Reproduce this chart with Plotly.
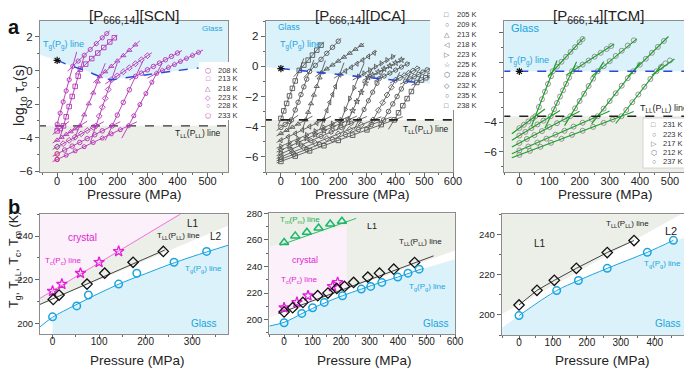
import plotly.graph_objects as go

# The page body has an 8 px margin, so the figure is 684x360 and page positions are shifted by 8 px.
OFF = 8
W, H = 684, 360
FONT = "Liberation Sans, Arial, sans-serif"

# ---------------- Panel a1 : [P666,14][SCN] ----------------
scn_temps = ["208 K", "213 K", "218 K", "223 K", "228 K", "233 K"]
scn_symbols = ["hexagon-open", "square-open", "triangle-up-open", "diamond-open", "circle-open", "pentagon-open"]
scn_glyphs = ["⬡", "□", "△", "◇", "○", "⬠"]
scn_p = [
    [0, 10, 20, 30, 40, 52, 70, 90, 110, 130, 150, 165],
    [0, 10, 21, 30, 40, 50, 60, 70, 77, 95, 115, 135, 155, 175, 190],
    [0, 15, 30, 45, 60, 75, 90, 105, 120, 135, 142, 160, 180, 200, 220, 240, 260],
    [0, 20, 40, 60, 80, 100, 120, 129, 140, 150, 160, 170, 181, 200, 220, 240, 260, 280, 300],
    [0, 25, 50, 75, 100, 125, 150, 183, 200, 220, 240, 261, 280, 300, 320, 340, 360, 380, 400],
    [0, 30, 60, 90, 120, 150, 180, 210, 237, 255, 275, 295, 315, 331, 350, 370, 390, 410, 430, 450, 470],
]
scn_logtau = [
    [-3.2, -2.54, -1.87, -1.21, -0.55, 0.25, 0.56, 0.91, 1.25, 1.6, 1.95, 2.2],
    [-3.6, -3.46, -3.3, -2.76, -2.15, -1.55, -0.95, -0.34, 0.08, 0.38, 0.71, 1.04, 1.37, 1.7, 1.95],
    [-4.15, -3.98, -3.81, -3.64, -3.47, -3.3, -2.64, -1.98, -1.33, -0.67, -0.36, -0.07, 0.25, 0.57, 0.89, 1.21, 1.53],
    [-4.55, -4.36, -4.16, -3.97, -3.77, -3.58, -3.39, -3.3, -2.72, -2.19, -1.66, -1.13, -0.55, -0.32, -0.08, 0.16, 0.4, 0.64, 0.88],
    [-4.97, -4.74, -4.51, -4.29, -4.06, -3.83, -3.6, -3.3, -2.66, -1.9, -1.15, -0.35, -0.16, 0.04, 0.24, 0.44, 0.64, 0.84, 1.04],
    [-5.3, -5.05, -4.79, -4.54, -4.29, -4.03, -3.78, -3.53, -3.3, -2.7, -2.03, -1.37, -0.7, -0.17, 0.0, 0.18, 0.36, 0.54, 0.72, 0.9, 1.08],
]
# fitted straight lines: [P1, log1, P2, log2]
scn_fits = [
    [[-5, -3.53, 65, 1.11], [35, -0.04, 175, 2.37]],
    [[-15, -3.81, 40, -3.03], [10, -3.96, 90, 0.87], [60, -0.2, 200, 2.11]],
    [[-15, -4.32, 100, -3.02], [55, -4.18, 160, 0.43], [120, -0.72, 275, 1.77]],
    [[-15, -4.7, 155, -3.05], [110, -4.31, 200, 0.45], [160, -0.8, 315, 1.06]],
    [[-15, -5.11, 210, -3.05], [160, -4.17, 285, 0.56], [240, -0.56, 415, 1.19]],
    [[-15, -5.43, 265, -3.06], [215, -4.03, 350, 0.46], [300, -0.45, 485, 1.22]],
]
scn_amb_p = [0, 0, 0]
scn_amb_logtau = [-4.55, -4.97, -5.3]
scn_amb_colors = ["#3cb44b", "#f08a24", "#e8304a"]
scn_tg_p = [0, 50, 100, 140, 180, 220, 260, 300, 340, 400, 470]
scn_tg_logtau = [0.6, 0.25, -0.05, -0.35, -0.55, -0.45, -0.35, -0.25, -0.15, 0.0, 0.15]
scn_glass_p = [-60, 0, 50, 100, 140, 180, 220, 260, 300, 340, 400, 470, 570]
scn_glass_logtau = [0.95, 0.6, 0.25, -0.05, -0.35, -0.55, -0.45, -0.35, -0.25, -0.15, 0.0, 0.15, 0.35]
scn_tll_logtau = -3.3

# ---------------- Panel a2 : [P666,14][DCA] ----------------
dca_temps = ["205 K", "209 K", "213 K", "218 K", "223 K", "225 K", "228 K", "232 K", "235 K", "238 K"]
dca_symbols = ["square-open", "circle-open", "triangle-up-open", "triangle-left-open", "triangle-right-open",
               "star-open", "hexagon-open", "diamond-open", "circle-open", "square-open"]
dca_glyphs = ["□", "○", "△", "◁", "▷", "☆", "⬡", "◇", "○", "□"]
dca_p = [
    [0, 10, 20, 30, 40, 50, 64, 80, 95, 110, 125, 140],
    [0, 15, 30, 37, 50, 60, 70, 80, 90, 100, 120, 140, 160, 180, 200],
    [0, 20, 40, 60, 86, 95, 105, 115, 125, 135, 141, 160, 180, 200, 220, 240, 260, 280],
    [0, 25, 50, 75, 100, 125, 148, 160, 170, 180, 190, 205, 225, 245, 265, 285, 305, 325],
    [0, 30, 60, 90, 120, 150, 180, 210, 225, 240, 255, 271, 290, 310, 330, 350, 370, 390],
    [0, 30, 60, 90, 120, 150, 180, 210, 235, 250, 265, 280, 295, 304, 320, 340, 360, 380, 400, 420],
    [0, 35, 70, 105, 140, 175, 210, 245, 272, 290, 305, 320, 335, 343, 360, 380, 400, 420, 440],
    [0, 40, 80, 120, 160, 200, 240, 280, 321, 340, 355, 370, 385, 399, 415, 430, 445, 460, 475],
    [0, 45, 90, 135, 180, 225, 270, 315, 358, 375, 390, 405, 420, 435, 450, 465, 480, 495, 510],
    [0, 50, 100, 150, 200, 250, 300, 350, 395, 410, 425, 440, 455, 474, 490, 505, 520],
]
dca_logtau = [
    [-3.45, -2.95, -2.46, -1.96, -1.46, -0.97, -0.27, 0.08, 0.41, 0.74, 1.07, 1.4],
    [-4.05, -3.85, -3.65, -3.55, -2.89, -2.38, -1.87, -1.36, -0.85, -0.34, 0.06, 0.46, 0.86, 1.26, 1.66],
    [-4.45, -4.24, -4.03, -3.82, -3.55, -3.04, -2.47, -1.9, -1.33, -0.76, -0.42, -0.17, 0.09, 0.35, 0.61, 0.87, 1.13, 1.39],
    [-4.9, -4.67, -4.45, -4.22, -3.99, -3.76, -3.55, -2.92, -2.39, -1.87, -1.34, -0.55, -0.31, -0.07, 0.17, 0.41, 0.65, 0.89],
    [-5.3, -5.05, -4.8, -4.55, -4.3, -4.05, -3.8, -3.55, -2.85, -2.14, -1.43, -0.68, -0.47, -0.25, -0.03, 0.19, 0.41, 0.63],
    [-5.55, -5.29, -5.04, -4.78, -4.53, -4.27, -4.02, -3.76, -3.55, -2.94, -2.33, -1.72, -1.11, -0.74, -0.58, -0.38, -0.18, 0.02, 0.22, 0.42],
    [-5.8, -5.51, -5.22, -4.93, -4.64, -4.35, -4.06, -3.77, -3.55, -2.86, -2.28, -1.71, -1.13, -0.82, -0.65, -0.45, -0.25, -0.05, 0.15],
    [-6.0, -5.7, -5.39, -5.09, -4.78, -4.48, -4.18, -3.87, -3.55, -2.91, -2.4, -1.9, -1.39, -0.92, -0.76, -0.61, -0.46, -0.31, -0.16],
    [-6.15, -5.82, -5.5, -5.17, -4.84, -4.52, -4.19, -3.86, -3.55, -2.99, -2.49, -2.0, -1.5, -0.99, -0.84, -0.69, -0.54, -0.39, -0.24],
    [-6.3, -5.95, -5.6, -5.26, -4.91, -4.56, -4.21, -3.86, -3.55, -3.08, -2.61, -2.14, -1.67, -1.07, -0.91, -0.76, -0.61],
]
dca_fits = [
    [[-10, -3.95, 80, 0.53], [45, -0.69, 150, 1.62]],
    [[-15, -4.25, 60, -3.24], [25, -4.16, 115, 0.43], [80, -0.74, 210, 1.86]],
    [[-15, -4.61, 110, -3.3], [75, -4.18, 155, 0.38], [120, -0.69, 290, 1.52]],
    [[-15, -5.04, 175, -3.31], [135, -4.23, 220, 0.24], [185, -0.79, 335, 1.01]],
    [[-15, -5.42, 240, -3.3], [195, -4.26, 290, 0.21], [250, -0.91, 400, 0.74]],
    [[-15, -5.68, 265, -3.3], [215, -4.36, 320, -0.09], [285, -0.93, 430, 0.52]],
    [[-15, -5.92, 300, -3.32], [255, -4.2, 360, -0.16], [325, -1.0, 450, 0.25]],
    [[-15, -6.11, 350, -3.34], [300, -4.26, 415, -0.38], [380, -1.11, 485, -0.06]],
    [[-15, -6.26, 385, -3.36], [340, -4.15, 450, -0.5], [415, -1.19, 520, -0.14]],
    [[-15, -6.4, 425, -3.34], [375, -4.18, 490, -0.57], [455, -1.26, 530, -0.51]],
]
dca_tg_p = [0, 490]
dca_tg_logtau = [-0.15, -1.1]
dca_glass_p = [-60, 0, 490, 610]
dca_glass_logtau = [-0.03, -0.15, -1.1, -1.33]
dca_tll_logtau = -3.55

# ---------------- Panel a3 : [P666,14][TCM] ----------------
tcm_temps = ["231 K", "223 K", "217 K", "212 K", "237 K"]
tcm_glyphs = ["□", "○", "▷", "⬡", "○"]
tcm_p = [
    [0, 15, 30, 45, 53, 65, 75, 85, 95, 105, 111, 125, 140, 155, 170, 185, 200, 210],
    [0, 20, 40, 60, 80, 104, 115, 125, 135, 145, 155, 165, 175, 190, 210, 230, 250, 270, 290, 305],
    [0, 25, 50, 75, 100, 125, 150, 169, 185, 200, 215, 230, 245, 260, 280, 300, 320, 340, 360, 380],
    [0, 30, 60, 90, 120, 150, 180, 210, 240, 260, 280, 300, 320, 340, 360, 378, 400, 420, 440, 460, 480],
    [0, 35, 70, 105, 140, 175, 210, 245, 280, 310, 339, 355, 375, 395, 415, 435, 455, 470, 485, 500],
]
tcm_logtau = [
    [-4.4, -4.18, -3.95, -3.73, -3.6, -2.98, -2.46, -1.95, -1.43, -0.91, -0.58, -0.27, 0.06, 0.39, 0.72, 1.04, 1.37, 1.59],
    [-4.9, -4.65, -4.4, -4.15, -3.9, -3.6, -3.13, -2.71, -2.28, -1.86, -1.43, -1.01, -0.58, -0.39, -0.13, 0.14, 0.4, 0.66, 0.92, 1.12],
    [-5.4, -5.13, -4.87, -4.6, -4.33, -4.07, -3.8, -3.6, -3.07, -2.58, -2.09, -1.57, -1.08, -0.58, -0.24, 0.1, 0.45, 0.8, 1.15, 1.5],
    [-5.9, -5.64, -5.37, -5.11, -4.84, -4.58, -4.3, -4.04, -3.78, -3.6, -3.09, -2.58, -2.06, -1.55, -1.04, -0.58, -0.14, 0.26, 0.66, 1.06, 1.46],
    [-6.2, -5.93, -5.66, -5.39, -5.12, -4.85, -4.58, -4.32, -4.05, -3.82, -3.6, -3.18, -2.66, -2.14, -1.62, -1.1, -0.58, -0.3, -0.05, 0.15],
]
tcm_fits = [
    [[-25, -4.78, 85, -3.12], [40, -4.27, 125, 0.15], [95, -0.93, 215, 1.7]],
    [[-25, -5.21, 135, -3.21], [85, -4.41, 190, 0.06], [155, -0.84, 315, 1.25]],
    [[-25, -5.67, 200, -3.27], [150, -4.23, 280, 0.08], [240, -0.92, 390, 1.6]],
    [[-25, -6.12, 300, -3.25], [240, -4.11, 400, -0.02], [360, -0.94, 495, 1.76]],
    [[-25, -6.39, 380, -3.28], [320, -4.09, 475, -0.06], [440, -0.85, 515, 0.25]],
]
tcm_tg_logtau = -0.58
tcm_tll_logtau = -3.6

# ---------------- Panel b1 : SCN phase diagram ----------------
b1_tg_p = [0, 52, 77, 142, 181, 261, 331]
b1_tg_t = [203, 208, 213, 218, 223, 228, 233]
b1_tll_p = [1.5, 14, 74, 112, 173, 238]
b1_tll_t = [211, 213, 218, 223, 228, 233]
b1_tc_p = [0, 20, 60, 100, 142]
b1_tc_t = [214.8, 218, 223, 228, 233]
b1_tgline_p = [-27, 0, 50, 100, 150, 200, 250, 300, 377]
b1_tgline_t = [198.4, 202.8, 208.5, 213.8, 218.7, 222.8, 226.9, 230.6, 235.8]
b1_tllline_p = [-27, 241]
b1_tllline_t = [208.7, 233.6]
b1_tcline_p = [-30, 280]
b1_tcline_t = [211.1, 250.8]
b1_tllext_t = [208.3, 245.9]   # at P = -30 and 390

# ---------------- Panel b2 : DCA phase diagram ----------------
b2_tg_p = [0, 62, 100, 141, 205, 271, 304, 343, 399, 435, 474]
b2_tg_t = [197.7, 204.7, 209, 213, 218, 223, 225, 228, 232, 235, 238]
b2_tll_p = [0, 30, 66, 118, 154, 185, 212, 244, 294, 335, 385, 458]
b2_tll_t = [205.8, 209, 213, 218, 220, 223.5, 225, 228, 232, 235, 238, 243]
b2_tc_p = [0, 45, 84, 170, 188]
b2_tc_t = [209, 213, 218, 225, 228]
b2_tm_p = [0, 39, 80, 121, 162, 203]
b2_tm_t = [258, 263, 265.7, 269, 272, 274]
b2_tmline_p = [-14, 253]
b2_tmline_t = [256, 276.2]
b2_tllline_p = [-20, 525]
b2_tllline_t = [204.6, 248]
b2_tgline_p = [-52, 0, 62, 100, 141, 205, 271, 343, 399, 474, 490]
b2_tgline_t = [195.2, 198, 204.5, 208.5, 212.5, 218, 223, 228.3, 232, 237.5, 238.6]
b2_blue_p = [-52, 0, 62, 100, 141, 205, 271, 343, 399, 474, 600]
b2_blue_t = [195.2, 198, 204.5, 208.5, 212.5, 218, 223, 228.3, 232, 237.5, 245.4]
b2_grey_p = [-52, 600]
b2_grey_t = [201.8, 252]
b2_pink_p = [-52, -52, 220, 220]
b2_pink_t = [201.8, 254.6, 271, 224.5]

# ---------------- Panel b3 : TCM phase diagram ----------------
b3_tg_p = [0, 111, 175, 260, 378, 455]
b3_tg_t = [199.7, 212.2, 217.2, 223.3, 231.3, 237.3]
b3_tll_p = [0, 53, 104, 169, 260, 339]
b3_tll_t = [205, 212.3, 217.3, 223.3, 231.2, 237.2]
b3_blue_p = [-51, 0, 111, 175, 260, 378, 455, 500]
b3_blue_t = [193.5, 199.7, 212, 217.3, 223.5, 231.3, 236.8, 239.2]
b3_grey_p = [-51, 500]
b3_grey_t = [200.4, 252.5]

# ---------------- colours ----------------
C_BLUE_FILL = "#dcf2fb"
C_GREY_FILL = "#eceee8"
C_PINK_FILL = "#fcf0fa"
C_CYAN = "#1aa4e0"
C_MAG = "#e21ed8"
C_PURPLE = "#b432b4"
C_GREEN = "#1f9e2a"
C_TGDASH = "#2a48d6"

fig = go.Figure()


def px(x):
    return (x - OFF) / W


def py(y):
    return 1 - (y - OFF) / H


def fill(xs, ys, color, ax):
    fig.add_trace(go.Scatter(x=xs, y=ys, fill="toself", fillcolor=color, mode="lines",
                             line=dict(width=0), hoverinfo="skip", showlegend=False,
                             xaxis="x" + ax, yaxis="y" + ax))


def line(xs, ys, color, ax, width=1, dash=None, shape="linear"):
    fig.add_trace(go.Scatter(x=xs, y=ys, mode="lines", line=dict(color=color, width=width, dash=dash, shape=shape),
                             hoverinfo="skip", showlegend=False, xaxis="x" + ax, yaxis="y" + ax))


def marks(xs, ys, symbol, color, ax, size=5, lw=1):
    fig.add_trace(go.Scatter(x=xs, y=ys, mode="markers",
                             marker=dict(symbol=symbol, size=size, color=color, line=dict(color=color, width=lw)),
                             hoverinfo="skip", showlegend=False, xaxis="x" + ax, yaxis="y" + ax, cliponaxis=True))


def fit_lines(segs, color, ax, width=1):
    xs, ys = [], []
    for s in segs:
        xs += [s[0], s[2], None]
        ys += [s[1], s[3], None]
    line(xs, ys, color, ax, width)


# ---------- a1 ----------
a1x = [-57, 568]
a1y = [-6.05, 2.95]
fill(scn_glass_p + [scn_glass_p[-1], scn_glass_p[0]], scn_glass_logtau + [4, 4], C_BLUE_FILL, "")
fill([a1x[0] - 10, a1x[1] + 10, a1x[1] + 10, a1x[0] - 10], [scn_tll_logtau, scn_tll_logtau, -8, -8], C_GREY_FILL, "")
line([a1x[0] - 10, a1x[1] + 10], [scn_tll_logtau, scn_tll_logtau], "#333333", "", 1.4, "dash")
for i in range(len(scn_temps)):
    fit_lines(scn_fits[i], C_PURPLE, "", 0.9)
for i in range(3):
    marks([scn_amb_p[i]], [scn_amb_logtau[i]], "circle-open", scn_amb_colors[i], "", 4.5, 0.9)
for i in range(len(scn_temps)):
    marks(scn_p[i], scn_logtau[i], scn_symbols[i], C_PURPLE, "", 4.5, 0.9)
line(scn_tg_p, scn_tg_logtau, C_TGDASH, "", 1.4, "dash", "spline")
marks([0], [scn_tg_logtau[0]], "asterisk-open", "#111111", "", 6, 1.2)

# ---------- a2 ----------
a2x = [-53, 600]
a2y = [-7.0, 3.0]
fill(dca_glass_p + [dca_glass_p[-1], dca_glass_p[0]], dca_glass_logtau + [4, 4], C_BLUE_FILL, "2")
fill([a2x[0] - 10, a2x[1] + 10, a2x[1] + 10, a2x[0] - 10], [dca_tll_logtau, dca_tll_logtau, -8, -8], C_GREY_FILL, "2")
for i in range(len(dca_temps)):
    fit_lines(dca_fits[i], "#5a5a5a", "2", 0.9)
for i in range(len(dca_temps)):
    marks(dca_p[i], dca_logtau[i], dca_symbols[i], "#555555", "2", 4.5, 0.9)
line([a2x[0] - 10, a2x[1] + 10], [dca_tll_logtau, dca_tll_logtau], "#222222", "2", 1.6, "dash")
line(dca_tg_p, dca_tg_logtau, C_TGDASH, "2", 1.6, "dash")
marks([0], [dca_tg_logtau[0]], "asterisk-open", "#111111", "2", 6, 1.2)

# ---------- a3 ----------
a3x = [-50, 560]
a3y = [-7.35, 2.8]
fill([a3x[0] - 10, a3x[1] + 10, a3x[1] + 10, a3x[0] - 10], [tcm_tg_logtau, tcm_tg_logtau, 4, 4], C_BLUE_FILL, "3")
fill([a3x[0] - 10, a3x[1] + 10, a3x[1] + 10, a3x[0] - 10], [tcm_tll_logtau, tcm_tll_logtau, -8, -8], C_GREY_FILL, "3")
for i in range(len(tcm_p)):
    marks(tcm_p[i], tcm_logtau[i], "circle-open", "#8a8a8a", "3", 5, 0.9)
for i in range(len(tcm_p)):
    fit_lines(tcm_fits[i], C_GREEN, "3", 1.2)
line([a3x[0] - 10, a3x[1] + 10], [tcm_tll_logtau, tcm_tll_logtau], "#222222", "3", 1.6, "dash")
line([a3x[0] - 10, a3x[1] + 10], [tcm_tg_logtau, tcm_tg_logtau], C_TGDASH, "3", 1.6, "dash")
marks([0], [tcm_tg_logtau], "asterisk-open", "#111111", "3", 6, 1.2)

# ---------- b1 ----------
b1x = [-27, 377]
b1y = [195, 250]
fill(b1_tcline_p + [-30], b1_tcline_t + [260], C_PINK_FILL, "4")
fill(b1_tcline_p + [390, 390, -30], b1_tcline_t + [260, b1_tllext_t[1], b1_tllext_t[0]], C_GREY_FILL, "4")
fill(b1_tgline_p[1:] + [390, 390, 0], b1_tgline_t[1:] + [236.2, 190, 190], C_BLUE_FILL, "4")
line(b1_tcline_p, b1_tcline_t, "#ee70e0", "4", 1)
line(b1_tllline_p, b1_tllline_t, "#444444", "4", 1)
line(b1_tgline_p, b1_tgline_t, C_CYAN, "4", 1, None, "spline")
marks(b1_tc_p, b1_tc_t, "star-open", C_MAG, "4", 8, 1.3)
marks(b1_tll_p, b1_tll_t, "diamond-open", "#111111", "4", 8, 1.3)
marks(b1_tg_p, b1_tg_t, "circle-open", C_CYAN, "4", 7.5, 1.5)

# ---------- b2 ----------
b2x = [-52, 600]
b2y = [189, 280]
fill(b2_grey_p + [b2_grey_p[1], b2_grey_p[0]], b2_grey_t + [290, 290], C_GREY_FILL, "5")
fill(b2_pink_p, b2_pink_t, C_PINK_FILL, "5")
fill(b2_blue_p + [b2_blue_p[-1], b2_blue_p[0]], b2_blue_t + [180, 180], C_BLUE_FILL, "5")
line(b2_tmline_p, b2_tmline_t, "#2fbf60", "5", 1)
line(b2_tllline_p, b2_tllline_t, "#444444", "5", 1)
line(b2_tgline_p, b2_tgline_t, C_CYAN, "5", 1, None, "spline")
marks(b2_tm_p, b2_tm_t, "triangle-up-open", "#19b86a", "5", 8, 1.5)
marks(b2_tc_p, b2_tc_t, "star-open", C_MAG, "5", 8, 1.3)
marks(b2_tll_p, b2_tll_t, "diamond-open", "#111111", "5", 8, 1.3)
marks(b2_tg_p, b2_tg_t, "circle-open", C_CYAN, "5", 7.5, 1.5)

# ---------- b3 ----------
b3x = [-51, 498]
b3y = [190, 250.3]
fill(b3_grey_p + [b3_grey_p[1], b3_grey_p[0]], b3_grey_t + [260, 260], C_GREY_FILL, "6")
fill(b3_blue_p + [b3_blue_p[-1], b3_blue_p[0]], b3_blue_t + [180, 180], C_BLUE_FILL, "6")
line(b3_tll_p, b3_tll_t, "#444444", "6", 1)
line(b3_tg_p, b3_tg_t, C_CYAN, "6", 1, None, "spline")
marks(b3_tll_p, b3_tll_t, "diamond-open", "#111111", "6", 8, 1.3)
marks(b3_tg_p, b3_tg_t, "circle-open", C_CYAN, "6", 7.5, 1.5)


# ---------------- axes ----------------
def axis_common(rng, dtick, minor, tickfont):
    return dict(range=rng, dtick=dtick, showgrid=False, zeroline=False, showline=True, linecolor="#8c8c8c",
                linewidth=1, mirror=True, ticks="outside", ticklen=4, tickcolor="#666666",
                minor=dict(ticks="outside", ticklen=2, dtick=minor, tickcolor="#666666"),
                tickfont=dict(size=tickfont, family=FONT, color="#222222"), automargin=False)


top_y = [py(172), py(21)]
panels = {
    "": ([40, 228], top_y, a1x, a1y, 100, 50, 2, 1, True),
    "2": ([265.7, 453], top_y, a2x, a2y, 100, 50, 2, 1, True),
    "3": ([504.3, 688], top_y, a3x, a3y, 100, 50, 2, 1, True),
    "4": ([40, 228], [py(334.3), py(214.3)], b1x, b1y, 100, 50, 20, 10, False),
    "5": ([269.3, 455], [py(334.3), py(213.3)], b2x, b2y, 100, 50, 20, 10, False),
    "6": ([501.7, 688], [py(335), py(214.3)], b3x, b3y, 100, 50, 20, 10, False),
}
layout_axes = {}
for k, (xd, yd, xr, yr, xdt, xmn, ydt, ymn, top) in panels.items():
    xa = axis_common(xr, xdt, xmn, 11 if top else 10)
    xa.update(domain=[px(xd[0]), px(xd[1])], anchor="y" + k, ticklabelstandoff=-5 if top else -6)
    ya = axis_common(yr, ydt, ymn, 11.5 if top else 9.5)
    ya.update(domain=yd, anchor="x" + k)
    layout_axes["xaxis" + k] = xa
    layout_axes["yaxis" + k] = ya

fig.update_layout(width=W, height=H, margin=dict(l=0, r=0, t=0, b=0), paper_bgcolor="white",
                  plot_bgcolor="white", showlegend=False, font=dict(family=FONT), **layout_axes)

# ---------------- annotations ----------------
ann = []


def text(x, y, s, size=9, color="#222222", xanchor="center", bold=False, angle=0):
    if bold:
        s = "<b>" + s + "</b>"
    ann.append(dict(x=px(x), y=py(y), xref="paper", yref="paper", text=s, showarrow=False, textangle=angle,
                    font=dict(size=size, color=color, family=FONT), xanchor=xanchor, yanchor="middle"))


TG = "T<sub>g</sub>(P<sub>g</sub>) line"
TLL = "T<sub>LL</sub>(P<sub>LL</sub>) line"
text(134, 16, "[P<sub>666,14</sub>][SCN]", 15)
text(360, 16, "[P<sub>666,14</sub>][DCA]", 15)
text(598, 16, "[P<sub>666,14</sub>][TCM]", 15)
text(14, 27, "a", 20, "#111111", bold=True)
text(14, 207, "b", 20, "#111111", bold=True)
# axis titles
for xc in (134, 362, 605):
    text(xc, 194, "Pressure (MPa)", 13.5)
for xc in (137, 365, 602):
    text(xc, 360, "Pressure (MPa)", 13.5)
text(20, 96, "log<sub>10</sub> τ<sub>σ</sub>(s)", 14, angle=-90)
text(15, 260, "T<sub>g</sub>, T<sub>LL</sub>, T<sub>c</sub>, T<sub>m</sub> (K)", 12.5, angle=-90)
# a1
text(212, 28, "Glass", 8, C_CYAN)
text(63, 45, TG, 9, C_CYAN)
text(223, 133, TLL, 8.5, "#222222", "right")
# a2
text(289, 27, "Glass", 8.5, C_CYAN)
text(300, 45, TG, 9, C_CYAN)
text(451, 129, TLL, 8.5, "#222222", "right")
# a3
text(525, 28, "Glass", 11, C_CYAN)
text(528, 61, TG, 9, C_CYAN)
text(690, 108, TLL, 9, "#222222", "right")
# b1
text(193, 223, "L1", 10)
text(178, 236, TLL, 8)
text(216, 236, "L2", 10)
text(82, 237, "crystal", 10, C_MAG)
text(63, 261, "T<sub>c</sub>(P<sub>c</sub>) line", 8, C_MAG)
text(203, 269, TG, 8, C_CYAN)
text(204, 323, "Glass", 10, C_CYAN)
# b2
text(300, 220, "T<sub>m</sub>(P<sub>m</sub>) line", 8, "#22b04a")
text(372, 226, "L1", 9)
text(420, 242, TLL, 8)
text(305, 260, "crystal", 9, C_MAG)
text(299, 280, "T<sub>c</sub>(P<sub>c</sub>) line", 8, C_MAG)
text(427, 287, TG, 8, C_CYAN)
text(436, 323, "Glass", 10, C_CYAN)
# b3
text(627, 224, TLL, 8)
text(540, 243, "L1", 10)
text(671, 231, "L2", 11)
text(662, 264, TG, 8, C_CYAN)
text(668, 323, "Glass", 10, C_CYAN)

shapes = []


def legend_box(x0, y0, x1, y1, border=None):
    shapes.append(dict(type="rect", xref="paper", yref="paper", x0=px(x0), x1=px(x1), y0=py(y1), y1=py(y0),
                       fillcolor="white", line=dict(width=0.8 if border else 0, color=border or "white"), layer="above"))


legend_box(199, 62, 236, 120)
for i, t in enumerate(scn_temps):
    yy = 70 + i * 9
    text(208, yy, scn_glyphs[i], 7, C_PURPLE)
    text(216, yy, t, 7.5, "#333333", "left")
legend_box(430, 8, 497, 110)
for i, t in enumerate(dca_temps):
    yy = 14.3 + i * 10.1
    text(446.5, yy, dca_glyphs[i], 7, "#555555")
    text(455, yy, t, 7.5, "#333333", "left")
legend_box(643, 118, 688, 168, "#cccccc")
for i, t in enumerate(tcm_temps):
    yy = 125 + i * 9.2
    text(653.5, yy, tcm_glyphs[i], 7, "#666666")
    text(661, yy, t, 7.5, "#333333", "left")

fig.update_layout(annotations=ann, shapes=shapes)
fig.write_html("out.html")
